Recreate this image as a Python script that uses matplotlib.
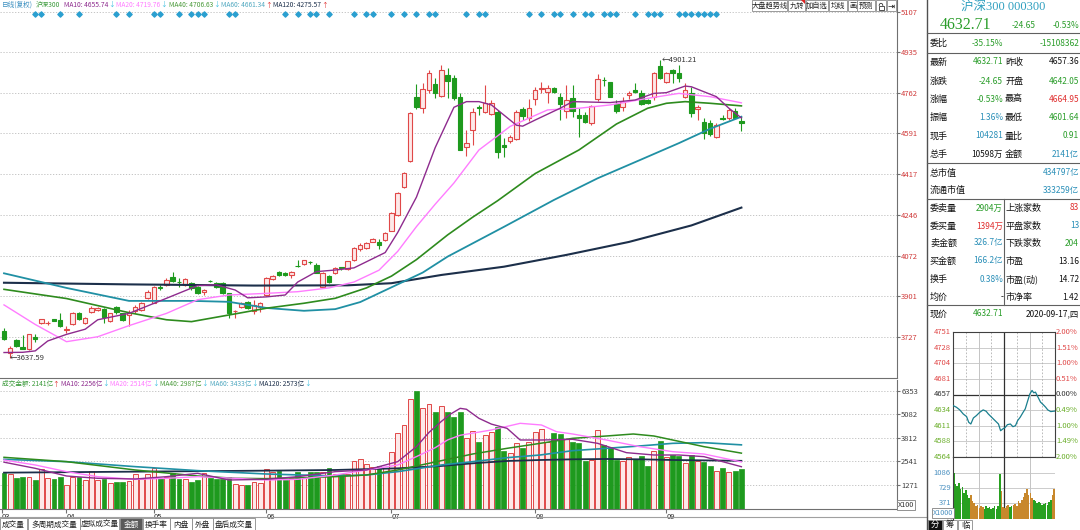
import numpy as np
import matplotlib
matplotlib.use("Agg")
import matplotlib.pyplot as plt
from matplotlib.patches import Rectangle, Polygon

plt.rcParams['font.family'] = ['Noto Sans CJK SC', 'DejaVu Sans']
plt.rcParams['axes.unicode_minus'] = False

# ---------------- daily data (沪深300, 2020-03 .. 2020-09-17) ----------------
opens = [3754, 3661, 3714, 3686, 3675, 3728, 3788, 3785, 3802, 3799,
         3757, 3782, 3827, 3785, 3834, 3841, 3844, 3796, 3856, 3827,
         3820, 3837, 3841, 3891, 3873, 3940, 3948, 3980, 3962, 3948,
         3955, 3940, 3919, 3966, 3957, 3955, 3912, 3836, 3856, 3877,
         3839, 3856, 3905, 3971, 4004, 4000, 3990, 4029, 4036, 4047,
         4032, 3938, 3986, 3997, 4022, 4014, 4053, 4099, 4103, 4131,
         4131, 4138, 4178, 4244, 4362, 4473, 4743, 4697, 4774, 4800,
         4749, 4838, 4824, 4746, 4531, 4605, 4701, 4683, 4673, 4683,
         4541, 4560, 4565, 4692, 4654, 4735, 4779, 4767, 4781, 4746,
         4687, 4739, 4668, 4668, 4633, 4735, 4817, 4807, 4715, 4704,
         4753, 4774, 4763, 4732, 4746, 4876, 4807, 4859, 4845, 4746,
         4760, 4692, 4640, 4636, 4576, 4654, 4654, 4686, 4642.05]
highs = [3764, 3689, 3720, 3735, 3738, 3740, 3805, 3795, 3805, 3827,
         3774, 3834, 3834, 3810, 3858, 3852, 3848, 3830, 3858, 3830,
         3841, 3863, 3877, 3926, 3943, 3947, 3976, 4001, 3976, 3976,
         3962, 3945, 3929, 3969, 3962, 3962, 3915, 3841, 3877, 3880,
         3884, 3877, 3980, 3990, 4008, 4004, 4008, 4053, 4055, 4049,
         4039, 4004, 3990, 4022, 4025, 4050, 4107, 4127, 4131, 4146,
         4141, 4172, 4255, 4343, 4425, 4680, 4800, 4805, 4859, 4824,
         4880, 4866, 4838, 4760, 4605, 4697, 4711, 4796, 4732, 4690,
         4569, 4583, 4690, 4704, 4735, 4786, 4810, 4796, 4786, 4760,
         4796, 4796, 4697, 4682, 4711, 4842, 4828, 4810, 4732, 4746,
         4770, 4805, 4774, 4738, 4852, 4901.21, 4852, 4862, 4880, 4803,
         4786, 4711, 4654, 4647, 4633, 4668, 4696, 4696, 4664.95]
lows = [3714, 3637.59, 3683, 3677, 3672, 3707, 3782, 3779, 3793, 3768,
        3745, 3778, 3799, 3782, 3830, 3836, 3788, 3791, 3824, 3795,
        3774, 3827, 3839, 3887, 3870, 3926, 3943, 3962, 3940, 3945,
        3926, 3910, 3905, 3960, 3936, 3910, 3806, 3806, 3849, 3845,
        3825, 3834, 3901, 3968, 3986, 3986, 3976, 4025, 4033, 4035,
        3997, 3933, 3957, 3993, 4011, 4010, 4049, 4093, 4098, 4128,
        4099, 4134, 4175, 4240, 4358, 4470, 4692, 4675, 4760, 4739,
        4746, 4739, 4732, 4520, 4494, 4541, 4668, 4675, 4668, 4485,
        4489, 4548, 4562, 4647, 4644, 4711, 4760, 4718, 4763, 4647,
        4654, 4661, 4574, 4636, 4626, 4729, 4791, 4746, 4675, 4686,
        4735, 4760, 4711, 4715, 4732, 4820, 4803, 4803, 4810, 4739,
        4661, 4647, 4565, 4579, 4569, 4647, 4647, 4657, 4601.64]
closes = [3717, 3679, 3689, 3678, 3738, 3717, 3802, 3788, 3796, 3774,
          3760, 3830, 3802, 3806, 3848, 3848, 3810, 3827, 3834, 3799,
          3834, 3856, 3872, 3919, 3940, 3933, 3969, 3966, 3959, 3971,
          3933, 3915, 3926, 3964, 3940, 3915, 3830, 3839, 3873, 3848,
          3863, 3873, 3976, 3986, 3990, 3990, 4004, 4026, 4053, 4045,
          4000, 3997, 3962, 4018, 4018, 4048, 4103, 4117, 4127, 4141,
          4117, 4167, 4251, 4339, 4421, 4675, 4704, 4777, 4845, 4760,
          4859, 4814, 4739, 4520, 4548, 4683, 4700, 4718, 4718, 4513,
          4534, 4573, 4683, 4664, 4697, 4774, 4781, 4781, 4767, 4715,
          4732, 4687, 4654, 4640, 4706, 4820, 4815, 4746, 4687, 4725,
          4763, 4767, 4715, 4718, 4848, 4824, 4845, 4848, 4824, 4774,
          4675, 4701, 4593, 4588, 4626, 4650, 4689, 4657.36, 4632.71]
# 成交金额 (亿)
amount = [1936, 1864, 1631, 1720, 1720, 1541, 2115, 1631, 1577, 1685,
          1254, 1720, 1720, 1541, 2044, 1541, 1577, 1397, 1451, 1433,
          1487, 1864, 1577, 1864, 2169, 1631, 1685, 1936, 1613, 1577,
          1451, 1541, 1936, 1631, 1577, 1577, 1720, 1326, 1272, 1272,
          1451, 1397, 2115, 1992, 2044, 1541, 1631, 1992, 1631, 1992,
          1992, 1992, 2169, 1864, 1864, 1864, 2582, 2654, 2403, 2259,
          2295, 2169, 3067, 4054, 4503, 5900, 6353, 5400, 5634, 5185,
          5526, 5185, 4952, 5185, 3785, 4198, 3605, 3964, 4108, 4413,
          3103, 2977, 3551, 3282, 3569, 4108, 4287, 3569, 4090, 4018,
          3749, 3569, 3551, 2564, 2618, 4234, 3426, 3336, 2618, 2564,
          2762, 2654, 2834, 2295, 3103, 3641, 2762, 2887, 2834, 2439,
          2887, 2564, 2528, 2295, 2044, 2169, 1972, 2026, 2141]

# moving averages (candle index, value)
ma10_idx = [0, 3, 5, 7, 10, 13, 15, 20, 26, 31, 34, 37, 39, 42, 45, 47, 50, 53, 56, 58, 61, 63,
            66, 69, 72, 74, 76, 78, 80, 82, 83, 85, 89, 91, 97, 101, 104, 106, 109, 110, 114, 116, 118]
ma10_val = [3661, 3662, 3668, 3710, 3738, 3760, 3800, 3827, 3891, 3945, 3948, 3926, 3893, 3897,
            3905, 3960, 4004, 4011, 4020, 4046, 4085, 4170, 4320, 4530, 4701, 4725, 4725, 4711,
            4668, 4625, 4621, 4647, 4697, 4725, 4721, 4732, 4760, 4763, 4791, 4788, 4746, 4697, 4656]
ma20_idx = [0, 5, 10, 15, 20, 26, 31, 36, 42, 47, 52, 56, 60, 63, 66, 69, 72, 76, 81, 87, 92, 97,
            103, 108, 113, 118]
ma20_val = [3863, 3780, 3707, 3728, 3775, 3827, 3885, 3905, 3912, 3919, 3935, 3960, 4010, 4090,
            4195, 4290, 4380, 4520, 4620, 4690, 4697, 4711, 4739, 4760, 4746, 4720]
ma40_idx = [0, 10, 20, 26, 30, 37, 42, 48, 53, 58, 62, 66, 71, 75, 79, 85, 92, 98, 103, 106, 109,
            113, 118]
ma40_val = [3929, 3890, 3830, 3800, 3792, 3825, 3849, 3870, 3891, 3935, 3985, 4055, 4160, 4235,
            4305, 4420, 4520, 4630, 4697, 4718, 4725, 4718, 4707]
ma60_idx = [0, 10, 20, 30, 36, 42, 48, 53, 57, 63, 67, 71, 75, 80, 88, 95, 102, 108, 113, 118]
ma60_val = [3997, 3935, 3880, 3880, 3876, 3850, 3838, 3845, 3875, 3950, 4000, 4068, 4124, 4194,
            4308, 4400, 4480, 4549, 4610, 4661]
ma120_idx = [0, 20, 40, 55, 62, 70, 80, 90, 100, 110, 118]
ma120_val = [3957, 3950, 3945, 3946, 3955, 3990, 4025, 4075, 4130, 4200, 4275.57]

vma10_idx = [0, 5, 10, 15, 21, 26, 31, 36, 42, 47, 53, 58, 63, 66, 68, 70, 71.5, 73, 74, 76, 78,
             80.5, 82.6, 86, 91, 95, 99.6, 104, 108, 112, 118]
vma10_val = [2500, 2169, 1756, 1631, 1595, 1720, 1900, 1541, 1577, 1720, 1990, 2080, 2528, 3336,
             4100, 4700, 5100, 5400, 5350, 4862, 4550, 4323, 3695, 3695, 3731, 3515, 3013, 2887,
             2887, 2798, 2256]
vma20_idx = [0, 5, 10, 15, 21, 26, 31, 37, 42, 47, 53, 58, 63, 66, 69, 71, 73, 78, 82.6, 86, 88.4,
             91, 96.4, 101.7, 107, 112, 118]
vma20_val = [2618, 2349, 1990, 1720, 1577, 1631, 1720, 1631, 1541, 1577, 1810, 2080, 2349, 2800,
             3280, 3700, 3950, 4234, 4593, 4503, 4144, 4018, 3695, 3336, 3067, 2941, 2514]
vma40_idx = [0, 10, 21, 31, 37, 42, 53, 58, 63, 71, 75, 80.5, 85.8, 91, 96.4, 100.7, 104, 107, 112, 118]
vma40_val = [2762, 2528, 2080, 1756, 1631, 1613, 1720, 1810, 2080, 2654, 2941, 3246, 3515, 3785,
             3910, 4018, 3910, 3695, 3336, 2987]
vma60_idx = [0, 10, 21, 31, 42, 53, 58, 63, 70, 75, 80.5, 85.8, 91, 96.4, 101.7, 107, 112, 118]
vma60_val = [2654, 2528, 2259, 2044, 1864, 1756, 1810, 1990, 2349, 2528, 2744, 2887, 3121, 3246,
             3372, 3515, 3551, 3433]
vma120_idx = [0, 21, 42, 53, 63, 70, 75, 80.5, 85.8, 91, 96.4, 101.7, 107, 118]
vma120_val = [1936, 1990, 2044, 2080, 2169, 2295, 2439, 2564, 2618, 2654, 2672, 2654, 2618, 2573]

info_mine_idx = [5, 6, 9, 12, 18, 20, 24, 25, 28, 30, 31, 32, 36, 37, 45, 47, 49, 50, 52, 56, 58,
                 59, 62, 64, 66, 68, 69, 74, 76, 77, 84, 86, 88, 89, 91, 93, 94, 96, 97, 98, 101,
                 103, 104, 105, 108, 109, 110, 111, 112, 113, 114]

price_ticks = [3727, 3901, 4072, 4246, 4417, 4591, 4762, 4935, 5107]
amount_ticks = [1271, 2541, 3812, 5082, 6353]
month_idx = [-0.3, 10, 24, 42, 62, 85, 106]
month_lab = ['03', '04', '05', '06', '07', '08', '09']

# ---------------- intraday 2020-09-17 ----------------
prev_close = 4657.36
int_min = [0, 8, 16, 24, 32, 37, 42, 48, 55, 63, 71, 78, 83, 91, 99, 107, 112, 117, 123, 128,
           135, 141, 147, 152, 158, 165, 170, 176, 181, 186, 190, 194, 200, 206, 212, 218, 223,
           230, 236, 240]
int_price = [4640.9, 4638.4, 4634.4, 4628.4, 4624.4, 4615.9, 4613.4, 4622.4, 4625.9, 4630.9,
             4634.4, 4632.4, 4628.4, 4623.4, 4618.4, 4613.4, 4603.4, 4605.9, 4608.4, 4612.4,
             4613.4, 4609.4, 4610.9, 4618.4, 4623.4, 4630.9, 4635.9, 4648.4, 4658.4, 4663.4,
             4659.9, 4660.9, 4653.4, 4645.9, 4642.4, 4638.4, 4634.4, 4631.9, 4632.4, 4632.7]
iv_min = list(range(0, 240, 4))
iv_vol = [1086, 820, 780, 850, 700, 760, 620, 680, 550, 500,
          560, 420, 380, 300, 320, 260, 300, 280, 240, 300,
          250, 270, 230, 260, 290, 240, 300, 1050, 650, 280,
          260, 300, 330, 280, 300, 320, 350, 300, 420, 380,
          450, 520, 600, 700, 560, 620, 500, 450, 420, 380,
          400, 360, 330, 350, 380, 330, 400, 450, 560, 700]

# ---------------- colours ----------------
RED = '#e04848'
RED_FILL = '#fde9e9'
GREEN = '#1e9a1e'
C_MA10 = '#8e2b8e'
C_MA20 = '#ff7cff'
C_MA40 = '#2e8b1e'
C_MA60 = '#2090a4'
C_MA120 = '#1c2f4a'
TXT_G = '#2a9d2a'
TXT_R = '#e03030'
TXT_B = '#2a8fb8'
TXT_K = '#111111'
ARR_DN = '#40c0e0'
GRID = '#bbbbbb'
LINE = '#707070'

fig = plt.figure(figsize=(10.8, 5.3), dpi=100)
fig.patch.set_facecolor('white')


def px_axes(x0, y0, x1, y1, **kw):
    return fig.add_axes([x0 / 1080, 1 - y1 / 530, (x1 - x0) / 1080, (y1 - y0) / 530], **kw)


n = len(closes)
idx = np.arange(n)
XL = (-0.64, 142.9)

# ---------------- main candle chart ----------------
ax = px_axes(0, 0, 897, 378)
ax.set_xlim(*XL)
ax.set_ylim(3553, 5156)
for s in ['left', 'top']:
    ax.spines[s].set_visible(False)
for s in ['right', 'bottom']:
    ax.spines[s].set_color(LINE)
    ax.spines[s].set_linewidth(0.8)
ax.set_xticks([])
ax.yaxis.tick_right()
ax.set_yticks(price_ticks)
ax.tick_params(axis='y', labelsize=5.5, labelcolor='#d03c3c', length=2, pad=1, color=LINE)
for v in price_ticks:
    ax.axhline(v, color=GRID, lw=0.6, ls=(0, (1.5, 2)), zorder=0)

w = 0.72
for i in range(n):
    o, h, l, c = opens[i], highs[i], lows[i], closes[i]
    if c >= o:
        ax.vlines(i, c, h, color=RED, lw=0.8, zorder=2)
        ax.vlines(i, l, o, color=RED, lw=0.8, zorder=2)
        ax.add_patch(Rectangle((i - w / 2, o), w, max(c - o, 1.5), fc=RED_FILL, ec=RED,
                               lw=0.8, zorder=3))
    else:
        ax.vlines(i, l, h, color=GREEN, lw=0.8, zorder=2)
        ax.add_patch(Rectangle((i - w / 2, c), w, max(o - c, 1.5), fc=GREEN, ec=GREEN,
                               lw=0.8, zorder=3))

ax.plot(ma120_idx, ma120_val, color=C_MA120, lw=1.5, zorder=4)
ax.plot(ma60_idx, ma60_val, color=C_MA60, lw=1.3, zorder=4)
ax.plot(ma40_idx, ma40_val, color=C_MA40, lw=1.2, zorder=4)
ax.plot(ma20_idx, ma20_val, color=C_MA20, lw=1.0, zorder=4)
ax.plot(ma10_idx, ma10_val, color=C_MA10, lw=1.0, zorder=4)

hi_i = int(np.argmax(highs))
lo_i = int(np.argmin(lows))
ax.text(hi_i + 0.2, highs[hi_i], '←%.2f' % highs[hi_i], fontsize=5.5, color='#333333',
        va='center', ha='left', zorder=5)
ax.text(lo_i - 0.1, lows[lo_i], '←%.2f' % lows[lo_i], fontsize=5.5, color='#333333',
        va='center', ha='left', zorder=5)

ax.scatter(info_mine_idx, [0.964] * len(info_mine_idx), marker='D', s=7, color='#2a9fd0',
           transform=ax.get_xaxis_transform(), zorder=5, clip_on=False)

# ---------------- amount chart ----------------
av = px_axes(0, 380, 897, 508.6)
av.set_xlim(*XL)
av.set_ylim(0, 6926)
for s in ['left', 'top']:
    av.spines[s].set_visible(False)
for s in ['right', 'bottom']:
    av.spines[s].set_color(LINE)
    av.spines[s].set_linewidth(0.8)
av.yaxis.tick_right()
av.set_yticks(amount_ticks)
av.tick_params(axis='y', labelsize=5.5, labelcolor='#404040', length=2, pad=1, color=LINE)
for v in amount_ticks:
    av.axhline(v, color=GRID, lw=0.6, ls=(0, (1.5, 2)), zorder=0)
up = np.array(closes) >= np.array(opens)
amount_arr = np.array(amount)
av.bar(idx[up], amount_arr[up], width=0.78, color=RED_FILL, edgecolor=RED, lw=0.7, zorder=2)
av.bar(idx[~up], amount_arr[~up], width=0.78, color=GREEN, edgecolor=GREEN, lw=0.5, zorder=2)
av.plot(vma120_idx, vma120_val, color=C_MA120, lw=1.3, zorder=4)
av.plot(vma60_idx, vma60_val, color=C_MA60, lw=1.2, zorder=4)
av.plot(vma40_idx, vma40_val, color=C_MA40, lw=1.1, zorder=4)
av.plot(vma20_idx, vma20_val, color=C_MA20, lw=1.0, zorder=4)
av.plot(vma10_idx, vma10_val, color=C_MA10, lw=1.0, zorder=4)
av.set_xticks(month_idx)
av.set_xticklabels(month_lab, fontsize=5.5, ha='left', color='#303030')
av.tick_params(axis='x', length=3, pad=0.5, color=LINE)

# ---------------- intraday price ----------------
ai = px_axes(953, 332, 1055, 457)
ai.set_xlim(0, 240)
ai.set_ylim(prev_close * 0.98, prev_close * 1.02)
ai.set_xticks([])
ai.set_yticks([])
for s in ai.spines.values():
    s.set_color('#404040')
    s.set_linewidth(0.8)
for k in range(1, 8):
    lvl = prev_close * (0.98 + 0.005 * k)
    if k == 4:
        ai.axhline(lvl, color='#303030', lw=0.9, zorder=1)
    else:
        ai.axhline(lvl, color='#c4c4c4', lw=0.6, zorder=1)
for m in [30, 90, 150, 210]:
    ai.axvline(m, color='#b0b0b0', lw=0.6, ls=(0, (2, 2)), zorder=1)
for m in [60, 180]:
    ai.axvline(m, color='#c4c4c4', lw=0.7, zorder=1)
ai.axvline(120, color='#303030', lw=0.9, zorder=1)
ai.plot(int_min, int_price, color='#1a7f8e', lw=0.9, zorder=3)

# ---------------- intraday volume ----------------
aiv = px_axes(953, 457, 1055, 518.6)
aiv.set_xlim(0, 240)
aiv.set_ylim(0, 1466)
aiv.set_xticks([])
aiv.set_yticks([])
for s in ['right', 'bottom']:
    aiv.spines[s].set_visible(False)
for s in ['left', 'top']:
    aiv.spines[s].set_color('#404040')
    aiv.spines[s].set_linewidth(0.8)
for v in [371, 729, 1086]:
    aiv.axhline(v, color='#c4c4c4', lw=0.6, zorder=1)
for m in [60, 180]:
    aiv.axvline(m, color='#c4c4c4', lw=0.7, zorder=1)
aiv.axvline(120, color='#303030', lw=0.9, zorder=1)
iv_p = np.interp(np.array(iv_min) + 4, int_min, int_price)
iv_up = np.diff(iv_p, prepend=int_price[0]) >= 0
iv_cols = np.where(iv_up, '#c8882c', '#28a020')
aiv.bar(np.array(iv_min) + 2, iv_vol, width=3.6, color=iv_cols, lw=0, zorder=2)

# ---------------- overlay: texts, panel, tabs ----------------
ov = fig.add_axes([0, 0, 1, 1], zorder=10)
ov.set_xlim(0, 1080)
ov.set_ylim(530, 0)
ov.axis('off')
renderer = fig.canvas.get_renderer()


def T(x, y, s, color=TXT_K, size=6.5, ha='left', va='center', **kw):
    return ov.text(x, y, s, color=color, fontsize=size, ha=ha, va=va, **kw)


def L(x0, y0, x1, y1, color=LINE, lw=0.8):
    ov.plot([x0, x1], [y0, y1], color=color, lw=lw, clip_on=False)


def chain(y, items, size):
    # texts placed left to right, never closer than the previous one's end
    x = 0
    for s, col, xref in items:
        if xref is not None:
            x = max(x + 1.5, xref)
        t = T(x, y, s, col, size)
        x += t.get_window_extent(renderer).width


# main header
chain(5, [('日线(复权)', '#3a8fc0', 0), ('沪深300', '#3a9a3a', 36),
          ('MA10: 4655.74', C_MA10, 64), ('↓', ARR_DN, None),
          ('MA20: 4719.76', C_MA20, 112), ('↓', ARR_DN, None),
          ('MA40: 4706.63', '#4a9a3a', 166), ('↓', ARR_DN, None),
          ('MA60: 4661.34', '#50a8c0', 219), ('↑', TXT_R, None),
          ('MA120: 4275.57', C_MA120, 271), ('↑', TXT_R, None)], 4.8)

# amount header
chain(384, [('成交金额: 2141亿', '#3a9a3a', 0), ('↑', TXT_R, None),
            ('MA10: 2256亿', C_MA10, 59), ('↓', ARR_DN, None),
            ('MA20: 2514亿', C_MA20, 110), ('↓', ARR_DN, None),
            ('MA40: 2987亿', '#4a9a3a', 157), ('↓', ARR_DN, None),
            ('MA60: 3433亿', '#50a8c0', 205), ('↓', ARR_DN, None),
            ('MA120: 2573亿', C_MA120, 254), ('↓', ARR_DN, None)], 4.8)
T(898, 505, 'X100', '#303030', 5.2,
  bbox=dict(boxstyle='square,pad=0.15', fc='white', ec='#808080', lw=0.6))

# toolbar top right
tools = [('大盘趋势线', 752, 787), ('九转', 788, 805), ('加自选', 806, 828), ('均线', 829, 847),
         ('画', 848, 857), ('预测', 857, 875), ('', 876, 886), ('', 887, 896)]
for lab, x0, x1 in tools:
    ov.add_patch(Rectangle((x0, 0), x1 - x0, 11, fc='white', ec='#8a8a8a', lw=0.6))
    if lab:
        T((x0 + x1) / 2, 5.8, lab, '#222222', 5.2, ha='center')
ov.add_patch(Polygon([(801, 0), (805, 0), (805, 4)], closed=True, fc='#e02020', ec='none'))
ov.add_patch(Rectangle((878.5, 5.5), 5, 4, fill=False, ec='#333333', lw=0.6))
th = np.linspace(0, np.pi, 12)
ov.plot(881 + 1.8 * np.cos(th), 5.5 - 2.2 * np.sin(th), color='#333333', lw=0.6)
T(891.5, 5.8, '⇥', '#111111', 6, ha='center', family='DejaVu Sans')

# bottom tabs
L(0, 517, 927, 517, '#a0a0a0', 0.8)
tabs = [('成交量', 0, 27), ('多周期成交量', 28, 80), ('虚拟成交量', 80, 119), ('金额', 120, 142),
        ('换手率', 143, 170), ('内盘', 170, 192), ('外盘', 192, 213), ('盘后成交量', 213, 255)]
for lab, x0, x1 in tabs:
    sel = lab == '金额'
    ov.add_patch(Rectangle((x0, 518), x1 - x0, 12, fc='#5a5a5a' if sel else 'white',
                           ec='#8a8a8a', lw=0.6))
    T((x0 + x1) / 2, 524.5, lab, 'white' if sel else '#222222', 5.5, ha='center')

# right info panel
L(927, 0, 927, 530, '#505050', 1.0)
T(1003, 7, '沪深300 000300', '#30a0c0', 9, ha='center',
  family=['Liberation Serif', 'Noto Sans CJK SC'])
T(966, 25, '4632.71', TXT_G, 11.5, ha='center', family=['Liberation Serif', 'DejaVu Serif'])
T(1036, 26, '-24.65', TXT_G, 6, ha='right')
T(1079, 26, '-0.53%', TXT_G, 6, ha='right')
for yy in [33, 53, 163, 199, 305]:
    L(927, yy, 1080, yy, '#606060', 0.8)
L(1004, 199, 1004, 305, '#606060', 0.8)
T(930, 43, '委比')
T(1003, 43, '-35.15%', TXT_G, 6, ha='right')
T(1079, 43, '-15108362', TXT_G, 6, ha='right')

rows = [
    (62, '最新', '4632.71', TXT_G, '昨收', '4657.36', TXT_K),
    (81, '涨跌', '-24.65', TXT_G, '开盘', '4642.05', TXT_G),
    (99, '涨幅', '-0.53%', TXT_G, '最高', '4664.95', TXT_R),
    (117, '振幅', '1.36%', TXT_B, '最低', '4601.64', TXT_G),
    (136, '现手', '104281', TXT_B, '量比', '0.91', TXT_G),
    (154, '总手', '10598万', TXT_K, '金额', '2141亿', TXT_B),
    (208, '委卖量', '2904万', TXT_G, '上涨家数', '83', TXT_R),
    (226, '委买量', '1394万', TXT_R, '平盘家数', '13', TXT_B),
    (243, '卖金额', '326.7亿', TXT_B, '下跌家数', '204', TXT_G),
    (261, '买金额', '166.2亿', TXT_B, '市盈', '13.16', TXT_K),
    (279, '换手', '0.38%', TXT_B, '市盈(动)', '14.72', TXT_K),
    (297, '均价', '-', TXT_K, '市净率', '1.42', TXT_K),
]
for yy, l1, v1, c1, l2, v2, c2 in rows:
    T(930, yy, l1)
    T(1003, yy, v1, c1, 6, ha='right')
    T(1005, yy, l2)
    T(1079, yy, v2, c2, 6, ha='right')
T(930, 173, '总市值')
T(1079, 173, '434797亿', TXT_B, 6, ha='right')
T(930, 190, '流通市值')
T(1079, 190, '333259亿', TXT_B, 6, ha='right')
T(930, 314, '现价')
T(1003, 314, '4632.71', TXT_G, 6, ha='right')
T(1079, 314, '2020-09-17,四', TXT_K, 6, ha='right')

# intraday labels
left_lab = ['4751', '4728', '4704', '4681', '4657', '4634', '4611', '4588', '4564']
right_lab = ['2.00%', '1.51%', '1.00%', '0.51%', '0.00%', '0.49%', '1.00%', '1.49%', '2.00%']
for k in range(9):
    yy = 332 + k * (457 - 332) / 8
    col = '#e04848' if k < 4 else ('#303030' if k == 4 else '#6aae2a')
    T(951, yy, left_lab[k], col, 5.5, ha='right')
    T(1056, yy, right_lab[k], col, 5.5)
for yy, lab in [(473, '1086'), (488, '729'), (503, '371')]:
    T(951, yy, lab, '#4a90c0', 5.5, ha='right')
T(933, 513, 'X1000', '#4a90c0', 5.2,
  bbox=dict(boxstyle='square,pad=0.15', fc='white', ec='#808080', lw=0.6))
for lab, x0, x1 in [('分', 928, 942), ('筹', 943, 957), ('临', 958, 972)]:
    sel = lab == '分'
    ov.add_patch(Rectangle((x0, 519.5), x1 - x0, 10.5, fc='#111111' if sel else 'white',
                           ec='#8a8a8a', lw=0.6))
    T((x0 + x1) / 2, 525, lab, 'white' if sel else '#222222', 6, ha='center')

fig.savefig('out.png', dpi=100, facecolor='white')
